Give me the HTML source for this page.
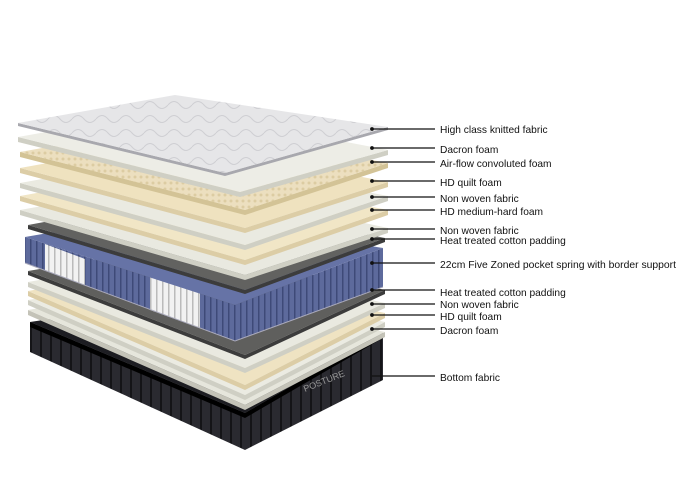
<!DOCTYPE html>
<html><head><meta charset="utf-8"><style>
html,body{margin:0;padding:0;background:#fff;width:700px;height:493px;overflow:hidden}
text{font-family:"Liberation Sans",sans-serif;font-size:10.2px;fill:#111}
</style></head><body>
<svg width="700" height="493" viewBox="0 0 700 493" xmlns="http://www.w3.org/2000/svg">
<defs>
<pattern id="rib" width="10" height="10" patternUnits="userSpaceOnUse"><rect width="10" height="10" fill="#2a2a30"/><rect width="2" height="10" fill="#141417"/></pattern>
<pattern id="spr" width="6" height="10" patternUnits="userSpaceOnUse"><rect width="6" height="10" fill="#5d6a9c"/><rect width="1.5" height="10" fill="#3e4a78"/></pattern>
<pattern id="sprw" width="6" height="10" patternUnits="userSpaceOnUse"><rect width="6" height="10" fill="#f2f2f2"/><rect width="1.5" height="10" fill="#bbb"/></pattern>
<pattern id="quilt" width="24" height="14" patternUnits="userSpaceOnUse"><rect width="24" height="14" fill="#e6e6e8"/><path d="M0 7 Q6 0 12 7 Q18 14 24 7" stroke="#cfcfd3" fill="none" stroke-width="1"/></pattern>
<pattern id="conv" width="6" height="6" patternUnits="userSpaceOnUse"><rect width="6" height="6" fill="#ecdfbf"/><circle cx="3" cy="3" r="1.5" fill="#dccca2"/></pattern>
</defs>

<polygon points="30,322 30,352 245,450 383,380 383,333 245,413" fill="url(#rib)"/>
<polygon points="30,322 175,300 383,333 245,413" fill="#1d1d22"/>
<polygon points="30,322 245,413 383,333 383,338 245,418 30,327" fill="#000"/>
<text x="305" y="392" style="font-size:9px;fill:#999" transform="rotate(-22 305 392)">POSTURE</text>

<g>
<polygon points="28,310 28,315 245,410 385,337 385,332 245,405" fill="#c4c3b8"/>
<polygon points="28,310 175,284 385,332 245,405" fill="#e6e6dc"/>
<polygon points="28,300 28,305 245,400 385,327 385,322 245,395" fill="#cfcfc4"/>
<polygon points="28,300 175,274 385,322 245,395" fill="#ebebe2"/>
<polygon points="28,291 28,296 245,390 385,318 385,313 245,385" fill="#dccda6"/>
<polygon points="28,291 175,265 385,313 245,385" fill="#efe3c2"/>
<polygon points="28,282 28,287 245,373 385,308 385,303 245,368" fill="#cfcfc4"/>
<polygon points="28,282 175,256 385,303 245,368" fill="#e9e9e0"/>
<polygon points="28,271 28,275 245,359 385,294 385,290 245,355" fill="#3c3c3c"/>
<polygon points="28,271 175,246 385,290 245,355" fill="#5f5f5d"/>
</g>

<polygon points="25,237 25,263 235,341 383,287 383,248 235,305" fill="url(#spr)"/>
<polygon points="45,244 85,259 85,285 45,270" fill="url(#sprw)"/>
<polygon points="150,274 200,292 200,328 150,310" fill="url(#sprw)"/>
<polygon points="25,237 170,212 383,248 235,305" fill="#6673a6"/>
<polyline points="25,263 235,341 383,287" fill="none" stroke="#aab" stroke-width="1"/>

<g>
<polygon points="28,225 28,229 245,294 385,242 385,238 245,290" fill="#3c3c3c"/>
<polygon points="28,225 175,198 385,238 245,290" fill="#626260"/>
<polygon points="20,210 20,215 245,280 388,233 388,228 245,275" fill="#cfcfc4"/>
<polygon points="20,210 175,182 388,228 245,275" fill="#e9e9e0"/>
<polygon points="20,196 20,201 245,265 388,215 388,210 245,260" fill="#dccda6"/>
<polygon points="20,196 175,168 388,210 245,260" fill="#f1e6c6"/>
<polygon points="20,183 20,188 245,250 388,201 388,196 245,245" fill="#cfcfc4"/>
<polygon points="20,183 175,155 388,196 245,245" fill="#eaeae1"/>
<polygon points="20,168 20,173 245,233 388,187 388,182 245,228" fill="#dccda6"/>
<polygon points="20,168 175,140 388,182 245,228" fill="#efe2bf"/>
<polygon points="20,152 20,157 245,215 388,168 388,163 245,210" fill="#d3c396"/>
<polygon points="20,152 175,124 388,163 245,210" fill="url(#conv)"/>
<polygon points="18,137 18,142 240,197 388,155 388,150 240,192" fill="#cfcfc4"/>
<polygon points="18,137 175,109 388,150 240,192" fill="#ededE6"/>
<polygon points="18,123 18,126 225,176 388,130 388,127 225,173" fill="#a8a8ae"/>
<polygon points="18,123 175,95 388,127 225,173" fill="url(#quilt)"/>
</g>

<g stroke="#111" stroke-width="1.2" fill="#111">
<line x1="372" y1="129" x2="435" y2="129"/><circle cx="372" cy="129" r="1.3"/>
<line x1="372" y1="148" x2="435" y2="148"/><circle cx="372" cy="148" r="1.3"/>
<line x1="372" y1="162" x2="435" y2="162"/><circle cx="372" cy="162" r="1.3"/>
<line x1="372" y1="181" x2="435" y2="181"/><circle cx="372" cy="181" r="1.3"/>
<line x1="372" y1="197" x2="435" y2="197"/><circle cx="372" cy="197" r="1.3"/>
<line x1="372" y1="210" x2="435" y2="210"/><circle cx="372" cy="210" r="1.3"/>
<line x1="372" y1="229" x2="435" y2="229"/><circle cx="372" cy="229" r="1.3"/>
<line x1="372" y1="239" x2="435" y2="239"/><circle cx="372" cy="239" r="1.3"/>
<line x1="372" y1="263" x2="435" y2="263"/><circle cx="372" cy="263" r="1.3"/>
<line x1="372" y1="290" x2="435" y2="290"/><circle cx="372" cy="290" r="1.3"/>
<line x1="372" y1="304" x2="435" y2="304"/><circle cx="372" cy="304" r="1.3"/>
<line x1="372" y1="315" x2="435" y2="315"/><circle cx="372" cy="315" r="1.3"/>
<line x1="372" y1="329" x2="435" y2="329"/><circle cx="372" cy="329" r="1.3"/>
<line x1="372" y1="376" x2="435" y2="376"/>
</g>
<text x="440" y="133">High class knitted fabric</text>
<text x="440" y="153">Dacron foam</text>
<text x="440" y="167">Air-flow convoluted foam</text>
<text x="440" y="186">HD quilt foam</text>
<text x="440" y="202">Non woven fabric</text>
<text x="440" y="215">HD medium-hard foam</text>
<text x="440" y="234">Non woven fabric</text>
<text x="440" y="244">Heat treated cotton padding</text>
<text x="440" y="268" textLength="236" lengthAdjust="spacingAndGlyphs">22cm Five Zoned pocket spring with border support</text>
<text x="440" y="296">Heat treated cotton padding</text>
<text x="440" y="308">Non woven fabric</text>
<text x="440" y="320">HD quilt foam</text>
<text x="440" y="334">Dacron foam</text>
<text x="440" y="381">Bottom fabric</text>
</svg>
</body></html>
